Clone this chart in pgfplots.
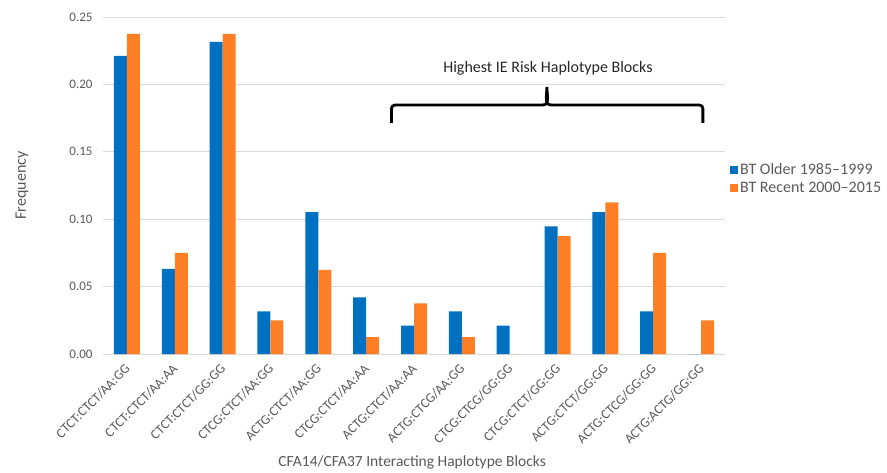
\documentclass[border=0pt]{standalone}
\usepackage{pgfplots}
\pgfplotsset{compat=1.18}
\usepackage{pgfplotstable}
\usepackage{fontspec}
\setmainfont{Carlito}
\definecolor{xlblue}{RGB}{0,112,192}
\definecolor{xlorange}{RGB}{255,127,39}
\definecolor{txtgray}{RGB}{89,89,89}
\definecolor{gridgray}{RGB}{217,217,217}
\pgfplotstableread{
x blue orange
0 0.2211 0.2375
1 0.0632 0.075
2 0.2316 0.2375
3 0.0316 0.025
4 0.1053 0.0625
5 0.0421 0.0125
6 0.0211 0.0375
7 0.0316 0.0125
8 0.0211 0
9 0.0947 0.0875
10 0.1053 0.1125
11 0.0316 0.075
12 0 0.025
}\datatable
\begin{document}
\begin{tikzpicture}
\path[use as bounding box] (-103pt,-118pt) rectangle (784pt,354pt);
\begin{axis}[
  scale only axis, width=622pt, height=337pt,
  xmin=-0.5, xmax=12.5, ymin=0, ymax=0.25,
  ybar=0pt, bar width=13pt,
  clip=false,
  axis line style={draw=none},
  major tick length=0pt,
  ymajorgrids, major grid style={gridgray, line width=0.8pt},
  ytick={0,0.05,0.10,0.15,0.20,0.25},
  yticklabel style={/pgf/number format/fixed, /pgf/number format/fixed zerofill, /pgf/number format/precision=2, font=\fontsize{13}{15}\selectfont, text=txtgray, xshift=-7pt},
  /pgf/number format/assume math mode=true,
  xtick=data,
  xticklabels={CTCT:CTCT/AA:GG, CTCT:CTCT/AA:AA, CTCT:CTCT/GG:GG, CTCG:CTCT/AA:GG, ACTG:CTCT/AA:GG, CTCG:CTCT/AA:AA, ACTG:CTCT/AA:AA, ACTG:CTCG/AA:GG, CTCG:CTCG/GG:GG, CTCG:CTCT/GG:GG, ACTG:CTCT/GG:GG, ACTG:CTCG/GG:GG, ACTG:ACTG/GG:GG},
  xticklabel style={yshift=-9pt, xshift=-3pt, rotate=45, anchor=north east, font=\fontsize{13.5}{15}\selectfont, text=txtgray, inner sep=0pt},
  ylabel={Frequency},
  ylabel style={at={(axis description cs:-0.1302,0.5)}, anchor=center, font=\fontsize{16}{18}\selectfont, text=txtgray},
  xlabel={CFA14/CFA37 Interacting Haplotype Blocks},
  xlabel style={at={(axis description cs:0.497,0)}, anchor=center, yshift=-108pt, font=\fontsize{15.5}{18}\selectfont, text=txtgray},
  legend style={at={(1.0,0.52)}, anchor=west, xshift=3pt, draw=none, fill=none, font=\fontsize{16}{18}\selectfont, text=txtgray, row sep=2pt, inner sep=2pt},
  legend cell align=left,
  legend image code/.code={\fill (0pt,-4pt) rectangle (8pt,4pt);},
]
\addplot[fill=xlblue, draw=none] table[x=x, y=blue] {\datatable};
\addlegendentry{BT Older 1985--1999}
\addplot[fill=xlorange, draw=none] table[x=x, y=orange] {\datatable};
\addlegendentry{BT Recent 2000--2015}
\draw[line width=2.8pt, black, rounded corners=3.5pt]
  (axis cs:5.528,0.1714) -- (axis cs:5.528,0.1847) -- (axis cs:8.70,0.1847);
\draw[line width=2.8pt, black, rounded corners=3.5pt]
  (axis cs:8.856,0.1847) -- (axis cs:12.038,0.1847) -- (axis cs:12.038,0.1714);
\draw[line width=2.8pt, black, line join=miter, miter limit=20]
  (axis cs:8.69,0.1847) to[out=0,in=-90] (axis cs:8.778,0.1981) to[out=-90,in=180] (axis cs:8.866,0.1847);
\node[font=\fontsize{16}{18}\selectfont, text={rgb,255:red,38;green,38;blue,38}] at (axis cs:8.80,0.2122) {Highest IE Risk Haplotype Blocks};
\end{axis}
\end{tikzpicture}
\end{document}
